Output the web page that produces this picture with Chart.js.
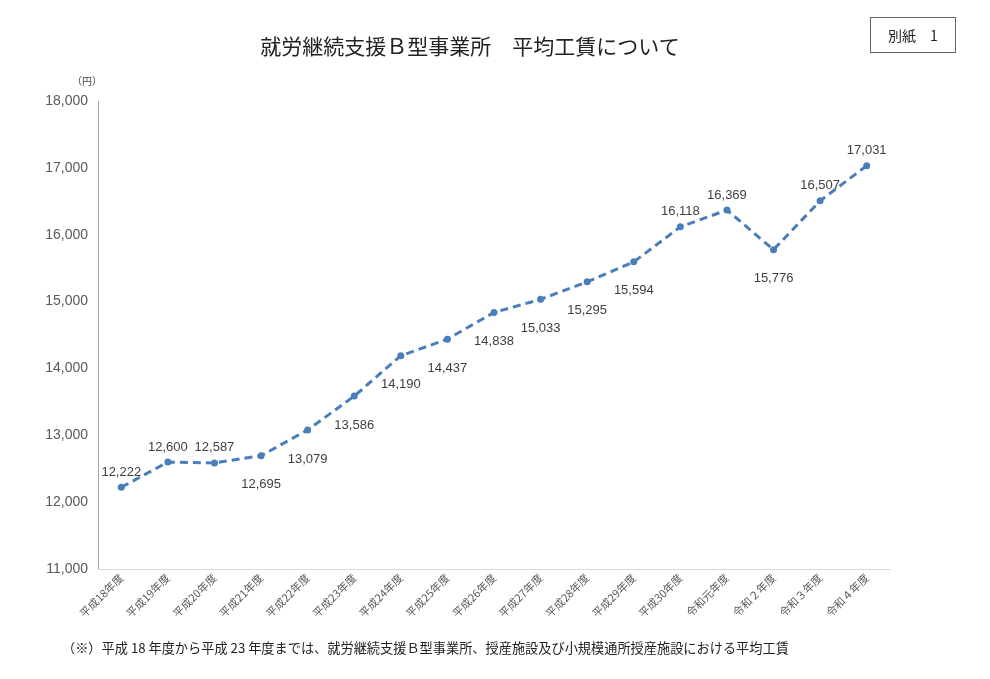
<!DOCTYPE html>
<html lang="ja">
<head>
<meta charset="utf-8">
<script src="https://cdn.jsdelivr.net/npm/chart.js@4/dist/chart.umd.min.js"></script>
<style>
    body { margin: 0; background: #fff; font-family: "Noto Sans CJK JP", sans-serif; color: #222; }
    #wrap { position: relative; width: 990px; height: 679px; }
    #chart { position: absolute; left: 0; top: 0; }
    .title { position: absolute; left: 0; width: 940px; top: 30px; text-align: center; font-size: 21px; }
    .badge { position: absolute; left: 870px; top: 17px; width: 86px; height: 36px; border: 1px solid #666;
             box-sizing: border-box; font-size: 14px; line-height: 34px; text-align: center; }
    .unit { position: absolute; left: 72px; top: 73px; font-size: 10px; color: #444; }
    .note { position: absolute; left: 62px; top: 638px; font-size: 13.2px; }
</style>
</head>
<body>
<div id="wrap">
    <canvas id="chart" width="990" height="679"></canvas>
    <div class="title">就労継続支援Ｂ型事業所　平均工賃について</div>
    <div class="badge">別紙　1</div>
    <div class="unit">（円）</div>
    <div class="note">（※）平成 18 年度から平成 23 年度までは、就労継続支援Ｂ型事業所、授産施設及び小規模通所授産施設における平均工賃</div>
</div>
<script>
document.addEventListener('DOMContentLoaded', function () {
    const years = ['平成18年度', '平成19年度', '平成20年度', '平成21年度', '平成22年度', '平成23年度',
        '平成24年度', '平成25年度', '平成26年度', '平成27年度', '平成28年度', '平成29年度',
        '平成30年度', '令和元年度', '令和２年度', '令和３年度', '令和４年度'];
    const wages = [12222, 12600, 12587, 12695, 13079, 13586, 14190, 14437, 14838, 15033,
        15295, 15594, 16118, 16369, 15776, 16507, 17031];
    // where each value label sits relative to its point
    const labelSide = ['up', 'up', 'up', 'down', 'down', 'down', 'down', 'down', 'down', 'down',
        'down', 'down', 'up', 'up', 'down', 'up', 'up'];

    const lineColor = '#4a7ebb';

    const valueLabels = {
        id: 'valueLabels',
        afterDatasetsDraw(chart) {
            const ctx = chart.ctx;
            const meta = chart.getDatasetMeta(0);
            ctx.save();
            ctx.font = '13px "Liberation Sans", sans-serif';
            ctx.fillStyle = '#404040';
            ctx.textAlign = 'center';
            ctx.textBaseline = 'middle';
            meta.data.forEach(function (pt, i) {
                const dy = labelSide[i] === 'up' ? -15 : 29;
                ctx.fillText(wages[i].toLocaleString('en-US'), pt.x, pt.y + dy);
            });
            ctx.restore();
        }
    };

    new Chart(document.getElementById('chart').getContext('2d'), {
        type: 'line',
        data: {
            labels: years,
            datasets: [{
                data: wages,
                borderColor: lineColor,
                backgroundColor: lineColor,
                borderWidth: 3,
                borderDash: [8, 5],
                pointRadius: 3.5,
                pointBorderWidth: 0,
                tension: 0,
            }]
        },
        options: {
            responsive: false,
            animation: false,
            layout: { padding: { left: 0, right: 100, top: 101, bottom: 60 } },
            plugins: { legend: { display: false }, tooltip: { enabled: false } },
            scales: {
                y: {
                    min: 11000,
                    max: 18000,
                    afterFit(scale) { scale.width = 98; },
                    ticks: {
                        stepSize: 1000,
                        color: '#595959',
                        padding: 10,
                        font: { family: '"Liberation Sans", sans-serif', size: 14 },
                        callback: v => v.toLocaleString('en-US'),
                    },
                    grid: { display: false, drawTicks: false },
                    border: { color: '#a6a6a6', width: 1 },
                },
                x: {
                    offset: true,
                    afterFit(scale) { scale.height = 50; },
                    ticks: {
                        minRotation: 45,
                        maxRotation: 45,
                        padding: 2,
                        color: '#595959',
                        font: { family: '"Noto Sans CJK JP", sans-serif', size: 11 },
                    },
                    grid: { display: false, offset: true, drawTicks: false },
                    border: { color: '#d9d9d9', width: 1 },
                }
            }
        },
        plugins: [valueLabels]
    });
});
</script>
</body>
</html>
